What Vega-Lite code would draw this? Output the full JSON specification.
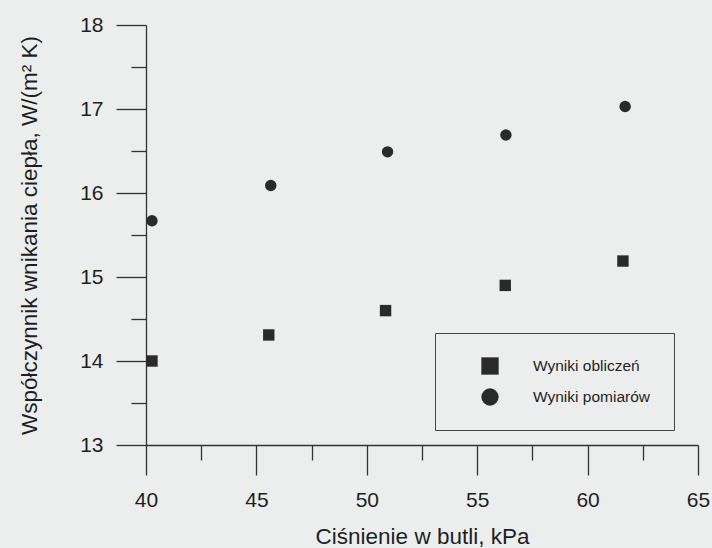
{
  "$schema": "https://vega.github.io/schema/vega-lite/v6.json",
  "width": 552,
  "height": 420,
  "autosize": {"type": "none"},
  "padding": {"left": 146, "top": 25, "right": 14, "bottom": 103},
  "background": "#eceeee",
  "config": {
    "view": {"stroke": null},
    "font": "Liberation Sans",
    "axis": {
      "grid": false,
      "domainColor": "#333333",
      "tickColor": "#333333",
      "labelColor": "#1e1e1e",
      "titleColor": "#1e1e1e",
      "labelFont": "Liberation Sans",
      "titleFont": "Liberation Sans",
      "labelFontSize": 21,
      "titleFontSize": 22.5,
      "titleFontWeight": "normal",
      "labelOverlap": false,
      "labelFlush": false,
      "domainWidth": 1.3,
      "tickWidth": 1.3
    }
  },
  "data": {
    "values": [
      {"p": 40.27, "h": 14.0, "s": "Wyniki obliczeń"},
      {"p": 45.56, "h": 14.31, "s": "Wyniki obliczeń"},
      {"p": 50.85, "h": 14.6, "s": "Wyniki obliczeń"},
      {"p": 56.27, "h": 14.9, "s": "Wyniki obliczeń"},
      {"p": 61.6, "h": 15.19, "s": "Wyniki obliczeń"},
      {"p": 40.27, "h": 15.67, "s": "Wyniki pomiarów"},
      {"p": 45.65, "h": 16.09, "s": "Wyniki pomiarów"},
      {"p": 50.94, "h": 16.49, "s": "Wyniki pomiarów"},
      {"p": 56.3, "h": 16.69, "s": "Wyniki pomiarów"},
      {"p": 61.7, "h": 17.03, "s": "Wyniki pomiarów"}
    ]
  },
  "layer": [
    {
      "mark": {"type": "point", "filled": true, "opacity": 0},
      "encoding": {
        "x": {
          "field": "p",
          "type": "quantitative",
          "scale": {"domain": [40, 65], "nice": false, "zero": false},
          "axis": {
            "orient": "bottom",
            "title": null,
            "values": [42.5, 47.5, 52.5, 57.5, 62.5],
            "labels": false,
            "domain": false,
            "tickSize": 15
          }
        },
        "y": {
          "field": "h",
          "type": "quantitative",
          "scale": {"domain": [13, 18], "nice": false, "zero": false},
          "axis": {
            "orient": "left",
            "title": null,
            "values": [13.5, 14.5, 15.5, 16.5, 17.5],
            "labels": false,
            "domain": false,
            "tickSize": 15
          }
        }
      }
    },
    {
      "mark": {"type": "point", "filled": true, "opacity": 1, "size": 130, "color": "#2a2a2a"},
      "encoding": {
        "x": {
          "field": "p",
          "type": "quantitative",
          "axis": {
            "orient": "bottom",
            "title": "Ciśnienie w butli, kPa",
            "values": [40, 45, 50, 55, 60, 65],
            "format": "d",
            "tickSize": 30,
            "labelPadding": 14,
            "titlePadding": 15
          }
        },
        "y": {
          "field": "h",
          "type": "quantitative",
          "axis": {
            "orient": "left",
            "title": "Współczynnik wnikania ciepła, W/(m² K)",
            "values": [13, 14, 15, 16, 17, 18],
            "format": "d",
            "tickSize": 30,
            "labelPadding": 13,
            "titlePadding": 38
          }
        },
        "shape": {
          "field": "s",
          "type": "nominal",
          "scale": {"domain": ["Wyniki obliczeń", "Wyniki pomiarów"], "range": ["square", "circle"]},
          "legend": {
            "title": null,
            "orient": "none",
            "legendX": 289,
            "legendY": 308,
            "padding": 24,
            "strokeColor": "#444444",
            "fillColor": "#eceeee",
            "symbolSize": 300,
            "symbolFillColor": "#3a3a3a",
            "symbolStrokeWidth": 0,
            "symbolOffset": 22,
            "labelOffset": 34,
            "rowPadding": 13,
            "labelFont": "Liberation Sans",
            "labelFontSize": 15.5,
            "labelColor": "#1e1e1e"
          }
        }
      }
    }
  ],
  "resolve": {"axis": {"x": "independent", "y": "independent"}}
}
